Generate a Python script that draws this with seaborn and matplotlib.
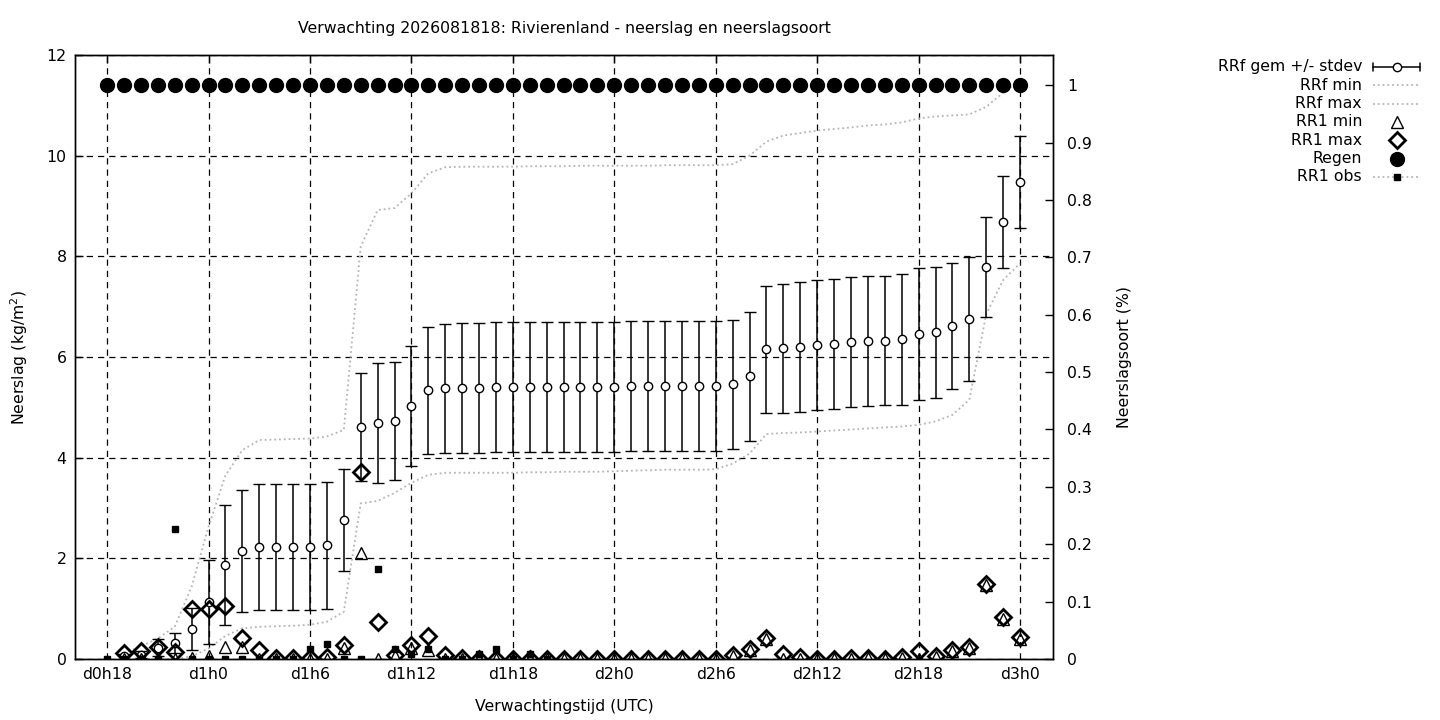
"""
Verwachting neerslag en neerslagsoort - Rivierenland
"""

import numpy as np
import matplotlib
matplotlib.use("Agg")
import matplotlib.pyplot as plt
from matplotlib.lines import Line2D
import seaborn as sns

# Configuration
FONT_SIZE = 11.3
GREY = '#b4b4b4'

# Forecast hours (hours after d0h0)
fc_hours = list(range(19, 73))
obs_hours = list(range(18, 45))
regen_hours = list(range(18, 73))

# RRf gemiddelde en stdev (kg/m2)
rrf_mean = [0.05, 0.08, 0.22, 0.31, 0.59, 1.13, 1.87, 2.15, 2.22, 2.22, 2.22, 2.22,
            2.26, 2.76, 4.61, 4.69, 4.73, 5.03, 5.34, 5.38, 5.38, 5.38,
            5.40, 5.40, 5.40, 5.40, 5.40, 5.40, 5.40, 5.40,
            5.42, 5.42, 5.42, 5.42, 5.42, 5.42,
            5.46, 5.62, 6.15, 6.17, 6.20, 6.23, 6.25, 6.29, 6.32, 6.32,
            6.35, 6.45, 6.49, 6.61, 6.75, 7.79, 8.68, 9.48]
rrf_std = [0.05, 0.07, 0.17, 0.20, 0.42, 0.83, 1.19, 1.21, 1.25, 1.25, 1.25, 1.25,
           1.26, 1.02, 1.07, 1.19, 1.17, 1.19, 1.26, 1.28, 1.29, 1.29,
           1.29, 1.29, 1.29, 1.29, 1.29, 1.29, 1.29, 1.29,
           1.29, 1.29, 1.29, 1.29, 1.29, 1.29,
           1.28, 1.28, 1.27, 1.28, 1.30, 1.29, 1.29, 1.29, 1.29, 1.28,
           1.30, 1.31, 1.30, 1.25, 1.23, 1.00, 0.91, 0.91]

# RRf min / max
rrf_min = [0, 0, 0, 0, 0.05, 0.21, 0.46, 0.61, 0.64, 0.65, 0.66, 0.68,
           0.74, 0.94, 3.09, 3.14, 3.30, 3.50, 3.66, 3.70, 3.70, 3.70,
           3.70, 3.70, 3.71, 3.71, 3.72, 3.72, 3.72, 3.73,
           3.74, 3.75, 3.76, 3.76, 3.76, 3.77,
           3.88, 4.08, 4.47, 4.49, 4.50, 4.52, 4.54, 4.56, 4.58, 4.60,
           4.62, 4.65, 4.72, 4.85, 5.15, 6.85, 7.53, 7.86]
rrf_max = [0.12, 0.25, 0.41, 0.64, 1.44, 2.63, 3.65, 4.15, 4.35, 4.36, 4.37, 4.38,
           4.42, 4.55, 8.19, 8.92, 8.96, 9.25, 9.65, 9.77, 9.78, 9.78,
           9.78, 9.78, 9.79, 9.79, 9.79, 9.80, 9.80, 9.80,
           9.80, 9.80, 9.81, 9.81, 9.81, 9.81,
           9.83, 10.00, 10.28, 10.40, 10.45, 10.50, 10.53, 10.56, 10.60, 10.62,
           10.66, 10.74, 10.78, 10.80, 10.82, 10.97, 11.25, 11.50]

# RR1 min / max (uursom)
rr1_min = [0, 0, 0, 0, 0.02, 0.05, 0.23, 0.24, 0, 0, 0, 0,
           0, 0.22, 2.10, 0, 0.05, 0.22, 0.18, 0, 0, 0,
           0, 0, 0, 0, 0, 0, 0, 0,
           0, 0, 0, 0, 0, 0,
           0.05, 0.17, 0.39, 0, 0, 0, 0, 0, 0.01, 0,
           0.02, 0, 0.04, 0.15, 0.21, 1.47, 0.80, 0.40]
rr1_max = [0.11, 0.16, 0.23, 0.14, 0.99, 0.99, 1.05, 0.42, 0.18, 0.02, 0.02, 0.02,
           0.04, 0.28, 3.72, 0.73, 0.08, 0.28, 0.45, 0.08, 0.02, 0,
           0, 0, 0, 0, 0, 0, 0, 0,
           0, 0, 0, 0, 0, 0,
           0.08, 0.20, 0.42, 0.10, 0.04, 0, 0, 0.01, 0.02, 0,
           0.03, 0.15, 0.05, 0.17, 0.23, 1.50, 0.84, 0.44]

# RR1 waarnemingen
rr1_obs = [0, 0, 0, 0, 2.58, 0, 0, 0, 0, 0, 0, 0, 0.19, 0.29, 0, 0, 1.79,
           0.19, 0.10, 0.19, 0, 0, 0.10, 0.19, 0, 0.10, 0]

# Neerslagsoort regen (kans)
regen = [1.0] * 55

xtick_hours = [18, 24, 30, 36, 42, 48, 54, 60, 66, 72]
xtick_labels = [f"d{h // 24}h{h % 24}" for h in xtick_hours]

sns.set_theme(style="white")
plt.rcParams['font.family'] = ['DejaVu Sans']
plt.rcParams['font.size'] = FONT_SIZE
plt.rcParams['text.color'] = 'black'
plt.rcParams['axes.labelcolor'] = 'black'
plt.rcParams['xtick.color'] = 'black'
plt.rcParams['ytick.color'] = 'black'

W, H = 1440, 720
fig = plt.figure(figsize=(W / 100, H / 100), dpi=100)
ax = fig.add_axes([75 / W, 61 / H, 978 / W, 604 / H])

# Errorbars gemiddelde +/- stdev
ax.errorbar(fc_hours, rrf_mean, yerr=rrf_std, fmt='o', ms=6, mfc='white',
            mec='black', mew=1, ecolor='black', elinewidth=1.1, capsize=4,
            capthick=1.1, zorder=3)

# Min / max lijnen
sns.lineplot(x=fc_hours, y=rrf_min, ax=ax, color=GREY, linestyle=':', lw=1.3, zorder=2)
sns.lineplot(x=fc_hours, y=rrf_max, ax=ax, color=GREY, linestyle=':', lw=1.3, zorder=2)

ax.plot(fc_hours, rr1_min, ls='none', marker='^', ms=9, mfc='none', mec='black',
        mew=1, zorder=4)
ax.plot(fc_hours, rr1_max, ls='none', marker='D', ms=8, mfc='none', mec='black',
        mew=2, zorder=5)
ax.plot(obs_hours, rr1_obs, ls='none', marker='s', ms=5, mfc='black', mec='black',
        zorder=7)

ax.set_xlim(16.1, 73.95)
ax.set_ylim(0, 12)
ax.set_xticks(xtick_hours)
ax.set_xticklabels(xtick_labels)
ax.set_yticks(range(0, 13, 2))
ax.grid(True, color='black', linestyle=(0, (5, 4)), lw=0.9)
ax.tick_params(direction='in', length=6, width=1, colors='black', top=True,
               labelsize=FONT_SIZE, pad=6)
ax.set_xlabel('Verwachtingstijd (UTC)', fontsize=FONT_SIZE, labelpad=12)
ax.set_ylabel('Neerslag (kg/m$^2$)', fontsize=FONT_SIZE, labelpad=12)
for s in ax.spines.values():
    s.set_color('black')
    s.set_linewidth(1)

# Rechter as: neerslagsoort
ax2 = ax.twinx()
ax2.plot(regen_hours, regen, ls='none', marker='o', ms=10, mfc='black',
         mec='black', zorder=6)
ax2.set_ylim(0, 1.0526)
ax2.set_yticks(np.round(np.arange(0, 1.01, 0.1), 1))
ax2.set_yticklabels(['0', '0.1', '0.2', '0.3', '0.4', '0.5', '0.6', '0.7',
                     '0.8', '0.9', '1'])
ax2.tick_params(direction='in', length=6, width=1, colors='black',
                labelsize=FONT_SIZE, pad=10)
ax2.set_ylabel('Neerslagsoort (%)', fontsize=FONT_SIZE, labelpad=18)
ax2.grid(False)
for s in ax2.spines.values():
    s.set_color('black')
    s.set_linewidth(1)

fig.text(564 / W, 1 - 29 / H, 'Verwachting 2026081818: Rivierenland - neerslag en neerslagsoort',
         ha='center', va='center', fontsize=FONT_SIZE)

# Legenda (gnuplot-stijl: tekst rechts uitgelijnd, symbool rechts)
labels = ['RRf gem +/- stdev', 'RRf min', 'RRf max', 'RR1 min', 'RR1 max',
          'Regen', 'RR1 obs']
x_text = 1362 / W
x0, x1, xm = 1373 / W, 1420 / W, 1397 / W
for i, lab in enumerate(labels):
    yy = 1 - (67 + i * 18.3) / H
    fig.text(x_text, yy, lab, ha='right', va='center', fontsize=FONT_SIZE)
    if i == 0:
        fig.add_artist(Line2D([x0, x1], [yy, yy], color='black', lw=1.1))
        for xc in (x0, x1):
            fig.add_artist(Line2D([xc, xc], [yy - 4 / H, yy + 4 / H], color='black', lw=1.1))
        fig.add_artist(Line2D([xm], [yy], marker='o', ms=6, mfc='white', mec='black'))
    elif i in (1, 2):
        fig.add_artist(Line2D([x0, x1], [yy, yy], color=GREY, ls=':', lw=1.3))
    elif i == 3:
        fig.add_artist(Line2D([xm], [yy], marker='^', ms=9, mfc='none', mec='black'))
    elif i == 4:
        fig.add_artist(Line2D([xm], [yy], marker='D', ms=8, mfc='none', mec='black', mew=2))
    elif i == 5:
        fig.add_artist(Line2D([xm], [yy], marker='o', ms=10, mfc='black', mec='black'))
    else:
        fig.add_artist(Line2D([x0, x1], [yy, yy], color=GREY, ls=':', lw=1.3))
        fig.add_artist(Line2D([xm], [yy], marker='s', ms=5, mfc='black', mec='black'))

fig.savefig('out.png', dpi=100)
